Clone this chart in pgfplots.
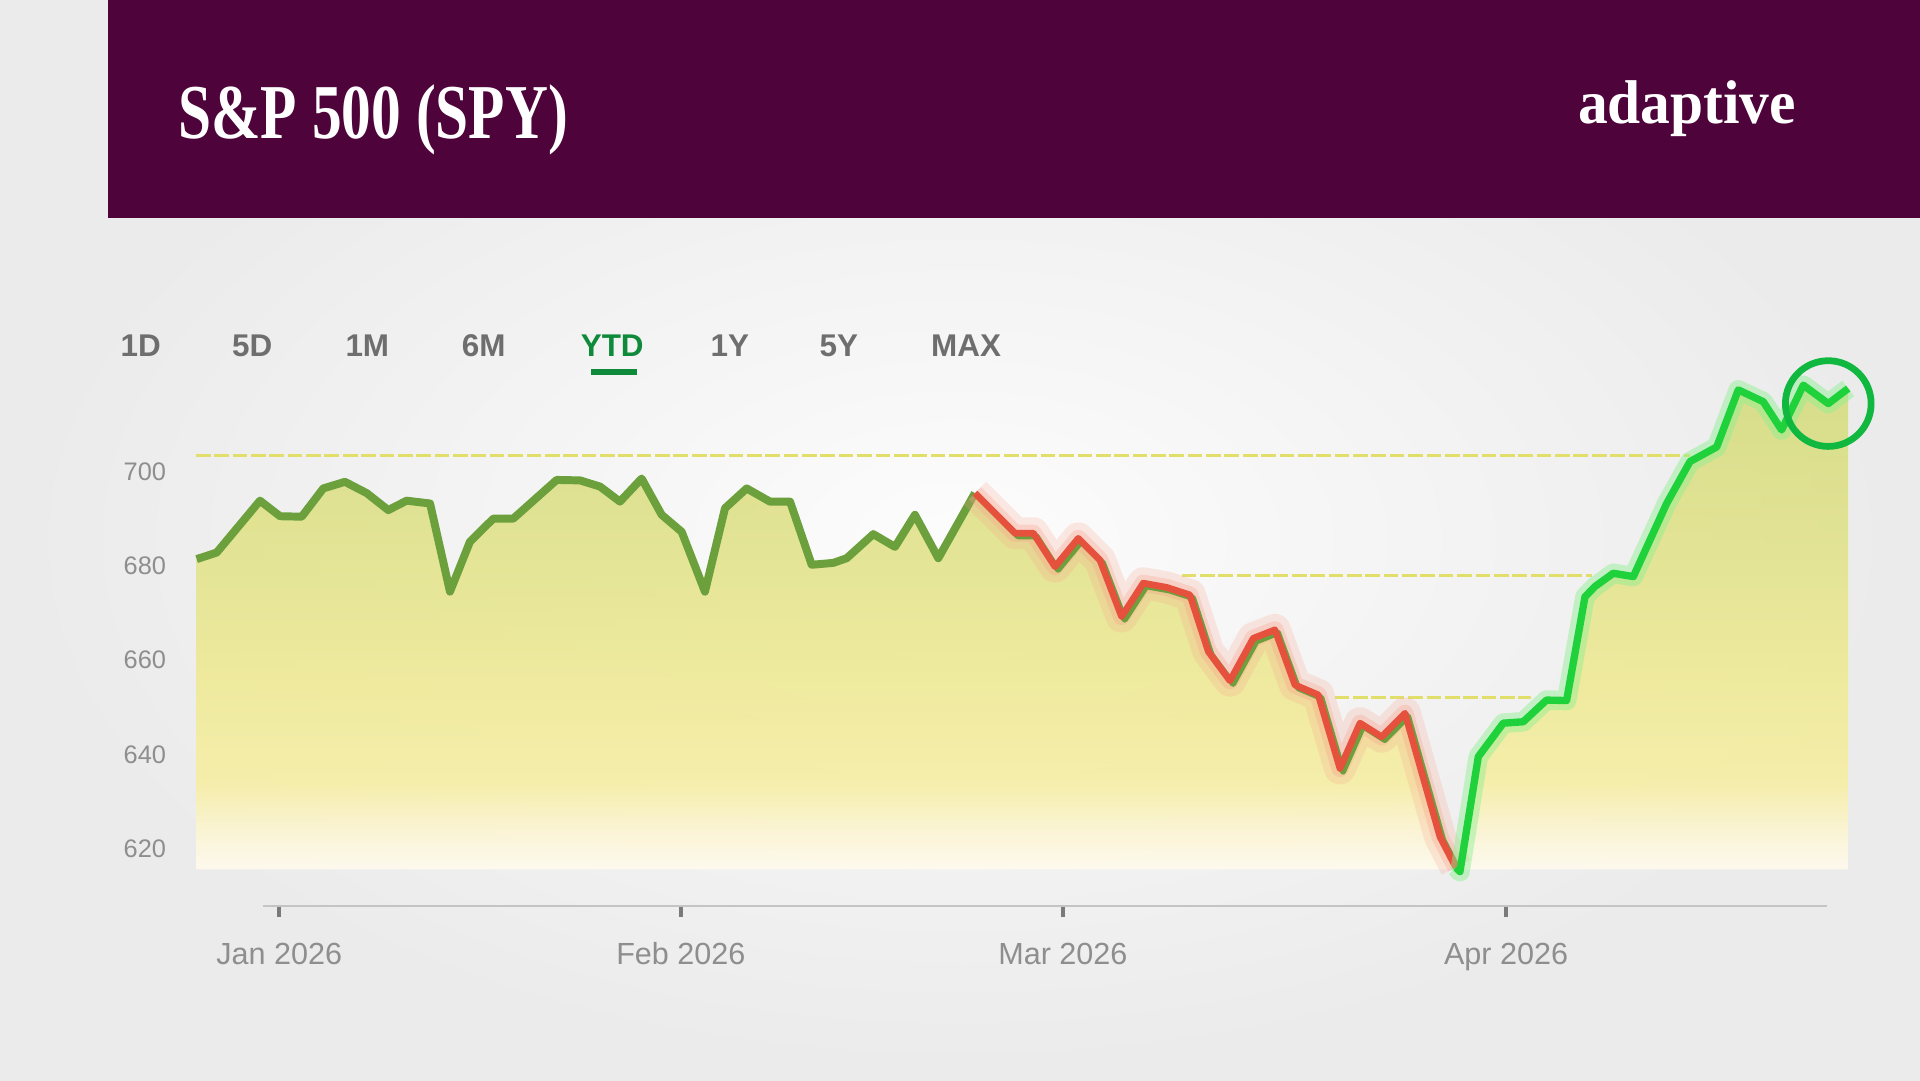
\documentclass[border=0pt]{standalone}
\usepackage{fontspec}
\setmainfont{Liberation Sans}
\newfontfamily\serifb{Liberation Serif}
\usepackage{graphicx}
\usepackage{pgfplots}
\pgfplotsset{compat=1.18}

\definecolor{hdr}{HTML}{4E033B}
\definecolor{paper}{HTML}{EFEFEF}
\definecolor{olive}{HTML}{6BA03C}
\definecolor{redline}{HTML}{E5513D}
\definecolor{glowred}{HTML}{F7A08A}
\definecolor{bgreen}{HTML}{1FD23C}
\definecolor{glowgreen}{HTML}{8AF08F}
\definecolor{circgreen}{HTML}{10B83F}
\definecolor{tabgray}{HTML}{6E6E6E}
\definecolor{tabgreen}{HTML}{0E8A3A}
\definecolor{tickgray}{HTML}{8E8E8E}
\definecolor{tickdark}{HTML}{7A7A7A}
\definecolor{axisgray}{HTML}{C4C4C4}
\definecolor{dashy}{HTML}{E2DE6A}
\definecolor{fillA}{HTML}{FFFBEF}
\definecolor{fillB}{HTML}{FCF5D5}
\definecolor{fillC}{HTML}{F6EEA6}
\definecolor{fillD}{HTML}{EFEA98}
\definecolor{fillE}{HTML}{E2E38E}
\definecolor{fillF}{HTML}{D5DC82}

\pgfdeclareverticalshading{areafill}{100bp}{color(0bp)=(fillA); color(25bp)=(fillA); color(29bp)=(fillB); color(34bp)=(fillC); color(44bp)=(fillD); color(58bp)=(fillE); color(75bp)=(fillF); color(100bp)=(fillF)}

\begin{document}
\begin{tikzpicture}[x=0.1mm,y=-0.1mm]
% paper background
\fill[paper] (0,0) rectangle (1568,882);
\shade[inner color=white!99!black, outer color=white!92!black] (0,0) rectangle (1568,882);
% header
\fill[hdr] (88,0) rectangle (1568,178);
\node[anchor=base west, inner sep=0pt, text=white] at (145,113) {\resizebox{31.8mm}{4.4mm}{\serifb\bfseries S\&P 500 (SPY)}};
\node[anchor=base west, inner sep=0pt, text=white] at (1288,101) {\resizebox{17.8mm}{3.5mm}{\serifb\bfseries adaptive}};
% tabs
\begin{scope}[every node/.style={anchor=base, inner sep=0pt, font=\fontsize{7.3}{8}\selectfont\bfseries, text=tabgray}]
\node at (115,291) {1D};
\node at (206,291) {5D};
\node at (300,291) {1M};
\node at (395,291) {6M};
\node[text=tabgreen] at (500,291) {YTD};
\node at (596,291) {1Y};
\node at (685,291) {5Y};
\node at (789,291) {MAX};
\end{scope}
\fill[tabgreen] (483,301) rectangle (520,306);

\begin{axis}[
  at={(16mm,-74mm)}, anchor=south west,
  scale only axis, width=135mm, height=44mm,
  xmin=160, xmax=1510, ymin=607.79, ymax=722.08,
  clip=false,
  axis line style={draw=none},
  xtick={228,556,868,1230},
  xticklabels={Jan 2026,Feb 2026,Mar 2026,Apr 2026},
  ytick={620,640,660,680,700},
  xtick pos=lower, ytick pos=left,
  ytick style={draw=none},
  xtick style={draw=tickdark, line width=0.3mm},
  tick align=outside, major tick length=0.9mm,
  /pgf/number format/assume math mode=true,
  yticklabel style={font=\fontsize{5.9}{7}\selectfont, text=tickgray, xshift=-0.3mm},
  xticklabel style={font=\fontsize{7.1}{8}\selectfont, text=tickgray, text height=1.8mm, text depth=0.4mm, yshift=-0.8mm},
]
% dashed reference lines
\draw[dashy, line width=0.25mm, dash pattern=on 1.2mm off 0.3mm] (axis cs:160,703.4) -- (axis cs:1380,703.4);
\draw[dashy, line width=0.25mm, dash pattern=on 1.2mm off 0.3mm] (axis cs:965,677.9) -- (axis cs:1300,677.9);
\draw[dashy, line width=0.25mm, dash pattern=on 1.2mm off 0.3mm] (axis cs:1090,652.0) -- (axis cs:1250,652.0);
% area
\addplot[draw=none, shading=areafill, fill opacity=0.92] coordinates {
(160.6,615.6)
(160.6,681.4) (177,682.8) (212.3,693.8) (228.7,690.5) (246.4,690.4) (264,696.4) (281.7,697.8) (299.5,695.4) (317.1,691.8) (332.1,693.8) (351.2,693.2) (367.5,674.5) (383.8,685.1) (402.9,690.0) (419.2,690.0) (454.6,698.2) (473.7,698.1) (490,696.8) (506.3,693.6) (524,698.5) (540.4,690.8) (556.7,687.2) (575.7,674.5) (592.1,692.2) (609.8,696.4) (628.8,693.6) (645.2,693.6) (662.9,680.2) (680.5,680.6) (691.5,681.6) (713.2,686.7) (730.9,684.0) (747.2,690.8) (766.3,681.6) (796.2,695.4)
(828.9,686.9) (843.9,686.9) (861.6,679.8) (880.6,685.8) (898.3,681.2) (916,669.2) (933.7,676.3) (952.8,675.4) (971.8,673.8) (986.8,661.8) (1004.5,655.6) (1023.5,664.6) (1041.2,666.4) (1057.6,654.7) (1076.6,652.6) (1094.3,637.0) (1110.7,646.6) (1128.4,643.7) (1147.4,648.7) (1176,622.5) (1189,616.0)
(1192.3,615.1) (1207.3,639.5) (1227.7,646.6) (1244,646.9) (1263,651.5) (1279.4,651.4) (1294.4,673.4) (1302.6,675.6) (1317.5,678.4) (1333.9,677.7) (1361.1,693.2) (1380.2,702.1) (1402,705.2) (1419.6,717.3) (1440,714.8) (1455,708.8) (1472.7,718.3) (1493.1,714.4) (1509.4,717.6)
(1509.4,615.6)};
% olive segment
\addplot[olive, line width=0.65mm, line join=round] coordinates {
(160.6,681.4) (177,682.8) (212.3,693.8) (228.7,690.5) (246.4,690.4) (264,696.4) (281.7,697.8) (299.5,695.4) (317.1,691.8) (332.1,693.8) (351.2,693.2) (367.5,674.5) (383.8,685.1) (402.9,690.0) (419.2,690.0) (454.6,698.2) (473.7,698.1) (490,696.8) (506.3,693.6) (524,698.5) (540.4,690.8) (556.7,687.2) (575.7,674.5) (592.1,692.2) (609.8,696.4) (628.8,693.6) (645.2,693.6) (662.9,680.2) (680.5,680.6) (691.5,681.6) (713.2,686.7) (730.9,684.0) (747.2,690.8) (766.3,681.6) (796.2,695.4)};
% red segment
\addplot[glowred, opacity=0.22, line width=2.6mm, line join=round] coordinates {
(796.2,695.4) (828.9,686.9) (843.9,686.9) (861.6,679.8) (880.6,685.8) (898.3,681.2) (916,669.2) (933.7,676.3) (952.8,675.4) (971.8,673.8) (986.8,661.8) (1004.5,655.6) (1023.5,664.6) (1041.2,666.4) (1057.6,654.7) (1076.6,652.6) (1094.3,637.0) (1110.7,646.6) (1128.4,643.7) (1147.4,648.7) (1176,622.5) (1189,616.0)};
\addplot[glowred, opacity=0.3, line width=1.4mm, line join=round] coordinates {
(796.2,695.4) (828.9,686.9) (843.9,686.9) (861.6,679.8) (880.6,685.8) (898.3,681.2) (916,669.2) (933.7,676.3) (952.8,675.4) (971.8,673.8) (986.8,661.8) (1004.5,655.6) (1023.5,664.6) (1041.2,666.4) (1057.6,654.7) (1076.6,652.6) (1094.3,637.0) (1110.7,646.6) (1128.4,643.7) (1147.4,648.7) (1176,622.5) (1189,616.0)};
\addplot[olive, line width=0.5mm, line join=round, xshift=0.25mm, yshift=-0.25mm] coordinates {
(796.2,695.4) (828.9,686.9) (843.9,686.9) (861.6,679.8) (880.6,685.8) (898.3,681.2) (916,669.2) (933.7,676.3) (952.8,675.4) (971.8,673.8) (986.8,661.8) (1004.5,655.6) (1023.5,664.6) (1041.2,666.4) (1057.6,654.7) (1076.6,652.6) (1094.3,637.0) (1110.7,646.6) (1128.4,643.7) (1147.4,648.7) (1176,622.5) (1189,616.0)};
\addplot[redline, line width=0.55mm, line join=round] coordinates {
(796.2,695.4) (828.9,686.9) (843.9,686.9) (861.6,679.8) (880.6,685.8) (898.3,681.2) (916,669.2) (933.7,676.3) (952.8,675.4) (971.8,673.8) (986.8,661.8) (1004.5,655.6) (1023.5,664.6) (1041.2,666.4) (1057.6,654.7) (1076.6,652.6) (1094.3,637.0) (1110.7,646.6) (1128.4,643.7) (1147.4,648.7) (1176,622.5) (1189,616.0)};
% bright green segment
\addplot[glowgreen, opacity=0.45, line width=1.6mm, line join=round] coordinates {
(1189,616.0) (1192.3,615.1) (1207.3,639.5) (1227.7,646.6) (1244,646.9) (1263,651.5) (1279.4,651.4) (1294.4,673.4) (1302.6,675.6) (1317.5,678.4) (1333.9,677.7) (1361.1,693.2) (1380.2,702.1) (1402,705.2) (1419.6,717.3) (1440,714.8) (1455,708.8) (1472.7,718.3) (1493.1,714.4) (1509.4,717.6)};
\addplot[bgreen, line width=0.6mm, line join=round] coordinates {
(1189,616.0) (1192.3,615.1) (1207.3,639.5) (1227.7,646.6) (1244,646.9) (1263,651.5) (1279.4,651.4) (1294.4,673.4) (1302.6,675.6) (1317.5,678.4) (1333.9,677.7) (1361.1,693.2) (1380.2,702.1) (1402,705.2) (1419.6,717.3) (1440,714.8) (1455,708.8) (1472.7,718.3) (1493.1,714.4) (1509.4,717.6)};
% x axis line
\draw[axisgray, line width=0.22mm] (axis cs:215,607.79) -- (axis cs:1492,607.79);
% highlight circle
\draw[circgreen, line width=0.55mm] (axis cs:1493.1,714.4) circle[radius=3.5mm];
\end{axis}
\end{tikzpicture}
\end{document}
